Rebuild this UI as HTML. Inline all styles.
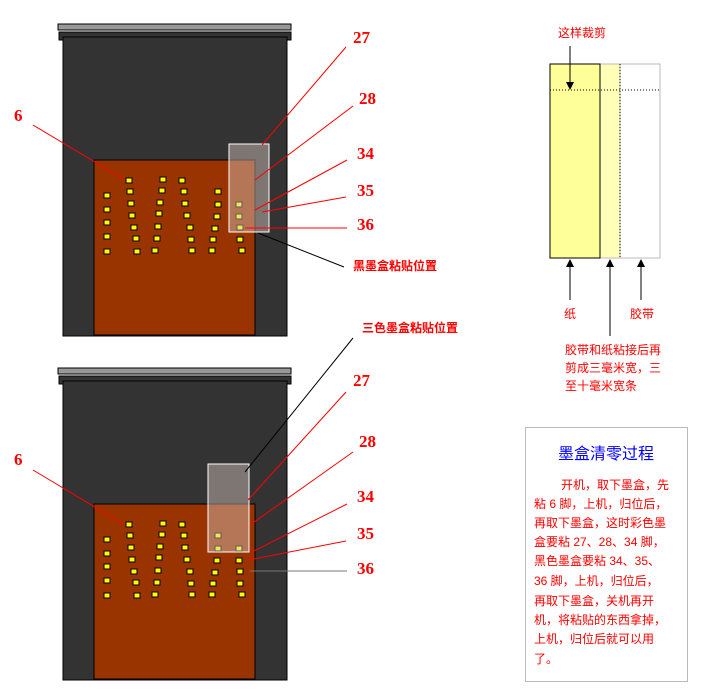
<!DOCTYPE html>
<html><head><meta charset="utf-8"><style>
body{margin:0;background:#fff;width:708px;height:699px;overflow:hidden}
svg{display:block}
.lb{font-family:"Liberation Serif",serif;font-weight:bold;font-size:17px;fill:#f00}
.cj{font-family:"Liberation Sans","Noto Sans CJK SC",sans-serif;fill:#f00;font-size:12px}
</style></head><body>
<svg width="708" height="699" viewBox="0 0 708 699" xmlns="http://www.w3.org/2000/svg">
<defs>
<g id="cart">
<rect x="58" y="24" width="233" height="6" fill="#999" stroke="#000"/>
<rect x="59" y="32" width="232" height="8" fill="#333" stroke="#000"/>
<rect x="63" y="37" width="224" height="299" fill="#333" stroke="#000"/>
<rect x="94" y="160" width="161" height="175" fill="#993300" stroke="#000"/>
<g fill="#ff0" stroke="#000" stroke-width="1">
<rect x="126" y="178" width="6" height="5"/><rect x="127" y="189" width="6" height="5"/><rect x="128" y="201" width="6" height="5"/><rect x="129" y="213" width="6" height="5"/><rect x="131" y="225" width="6" height="5"/><rect x="133" y="236" width="6" height="5"/><rect x="134" y="249" width="6" height="5"/>
<rect x="160" y="177" width="6" height="5"/><rect x="159" y="188" width="6" height="5"/><rect x="157" y="200" width="6" height="5"/><rect x="156" y="211" width="6" height="5"/><rect x="155" y="224" width="6" height="5"/><rect x="154" y="236" width="6" height="5"/><rect x="152" y="248" width="6" height="5"/>
<rect x="179" y="178" width="6" height="5"/><rect x="181" y="189" width="6" height="5"/><rect x="182" y="201" width="6" height="5"/><rect x="184" y="213" width="6" height="5"/><rect x="187" y="225" width="6" height="5"/><rect x="188" y="237" width="6" height="5"/><rect x="189" y="248" width="6" height="5"/>
<rect x="215" y="189" width="6" height="5"/><rect x="215" y="202" width="6" height="5"/><rect x="214" y="214" width="6" height="5"/><rect x="212" y="226" width="6" height="5"/><rect x="210" y="237" width="6" height="5"/><rect x="209" y="248" width="6" height="5"/>
<rect x="236" y="202" width="6" height="5"/><rect x="236" y="214" width="6" height="5"/><rect x="237" y="225" width="6" height="5"/><rect x="237" y="237" width="6" height="5"/><rect x="239" y="248" width="6" height="5"/>
<rect x="104" y="193" width="6" height="5"/><rect x="104" y="207" width="6" height="5"/><rect x="104" y="220" width="6" height="5"/><rect x="104" y="234" width="6" height="5"/><rect x="104" y="249" width="6" height="5"/>
</g>
</g>
</defs>
<use href="#cart"/>
<rect x="229" y="144" width="40" height="88" fill="#d8c8c0" fill-opacity="0.45" stroke="#fff"/>
<use href="#cart" transform="translate(0,344)"/>
<rect x="208" y="464" width="41" height="88" fill="#d8c8c0" fill-opacity="0.45" stroke="#fff"/>

<g stroke="#f00" stroke-width="1" fill="none">
<line x1="33" y1="125" x2="125" y2="180"/>
<line x1="346" y1="47" x2="262" y2="145"/>
<line x1="353" y1="106" x2="255" y2="180"/>
<line x1="347" y1="160" x2="255" y2="210"/>
<line x1="346" y1="197" x2="262" y2="212"/>
<line x1="347" y1="228" x2="245" y2="228"/>
<line x1="33" y1="470" x2="125" y2="525"/>
<line x1="346" y1="392" x2="248" y2="500"/>
<line x1="353" y1="452" x2="250" y2="525"/>
<line x1="347" y1="504" x2="250" y2="553"/>
<line x1="346" y1="541" x2="248" y2="560"/>
</g>
<line x1="344" y1="267" x2="258" y2="233" stroke="#000"/>
<line x1="353" y1="338" x2="245" y2="472" stroke="#000"/>
<line x1="347" y1="571" x2="250" y2="571" stroke="#777"/>

<text class="lb" x="14" y="121">6</text>
<text class="lb" x="353" y="43">27</text>
<text class="lb" x="359" y="104">28</text>
<text class="lb" x="357" y="159">34</text>
<text class="lb" x="357" y="196">35</text>
<text class="lb" x="357" y="230">36</text>
<text class="cj" x="353" y="270" font-weight="bold">黑墨盒粘贴位置</text>
<text class="cj" x="362" y="332" font-weight="bold">三色墨盒粘贴位置</text>
<text class="lb" x="14" y="465">6</text>
<text class="lb" x="353" y="386">27</text>
<text class="lb" x="359" y="447">28</text>
<text class="lb" x="357" y="502">34</text>
<text class="lb" x="357" y="539">35</text>
<text class="lb" x="357" y="574">36</text>

<rect x="600" y="64" width="60" height="194" fill="#fff" stroke="#bbb"/>
<rect x="600" y="64" width="20" height="194" fill="#ffff99" fill-opacity="0.7" stroke="#bbb"/>
<line x1="620" y1="64" x2="620" y2="258" stroke="#000" stroke-dasharray="1,2"/>
<rect x="550" y="64" width="50" height="194" fill="#ffff99" stroke="#000"/>
<line x1="550" y1="90" x2="660" y2="90" stroke="#000" stroke-dasharray="1,2"/>
<line x1="570" y1="46" x2="570" y2="82" stroke="#000"/>
<polygon points="566,82 574,82 570,90" fill="#000"/>
<polygon points="566,267 574,267 570,259" fill="#000"/>
<line x1="570" y1="267" x2="570" y2="300" stroke="#000"/>
<polygon points="606,267 614,267 610,259" fill="#000"/>
<line x1="610" y1="267" x2="610" y2="336" stroke="#000"/>
<polygon points="637,267 645,267 641,259" fill="#000"/>
<line x1="641" y1="267" x2="641" y2="300" stroke="#000"/>
<text class="cj" x="558" y="37">这样裁剪</text>
<text class="cj" x="564" y="318">纸</text>
<text class="cj" x="630" y="318">胶带</text>
<text class="cj" x="565" y="354">胶带和纸粘接后再</text>
<text class="cj" x="565" y="372">剪成三毫米宽，三</text>
<text class="cj" x="565" y="390">至十毫米宽条</text>

<rect x="525.5" y="427.5" width="162" height="254" fill="#fff" stroke="#bbb"/>
<text x="606" y="459" text-anchor="middle" font-family="Liberation Sans,Noto Sans CJK SC,sans-serif" font-size="16" fill="#00f">墨盒清零过程</text>
<text x="561" y="489" class="cj" font-size="13">开机，取下墨盒，先</text>
<text x="534" y="508" class="cj" font-size="13">粘 6 脚，上机，归位后，</text>
<text x="534" y="527" class="cj" font-size="13">再取下墨盒，这时彩色墨</text>
<text x="534" y="546" class="cj" font-size="13">盒要粘 27、28、34 脚，</text>
<text x="534" y="565" class="cj" font-size="13">黑色墨盒要粘 34、35、</text>
<text x="534" y="585" class="cj" font-size="13">36 脚，上机，归位后，</text>
<text x="534" y="605" class="cj" font-size="13">再取下墨盒，关机再开</text>
<text x="534" y="624" class="cj" font-size="13">机，将粘贴的东西拿掉，</text>
<text x="534" y="643" class="cj" font-size="13">上机，归位后就可以用</text>
<text x="534" y="663" class="cj" font-size="13">了。</text>
</svg>
</body></html>
